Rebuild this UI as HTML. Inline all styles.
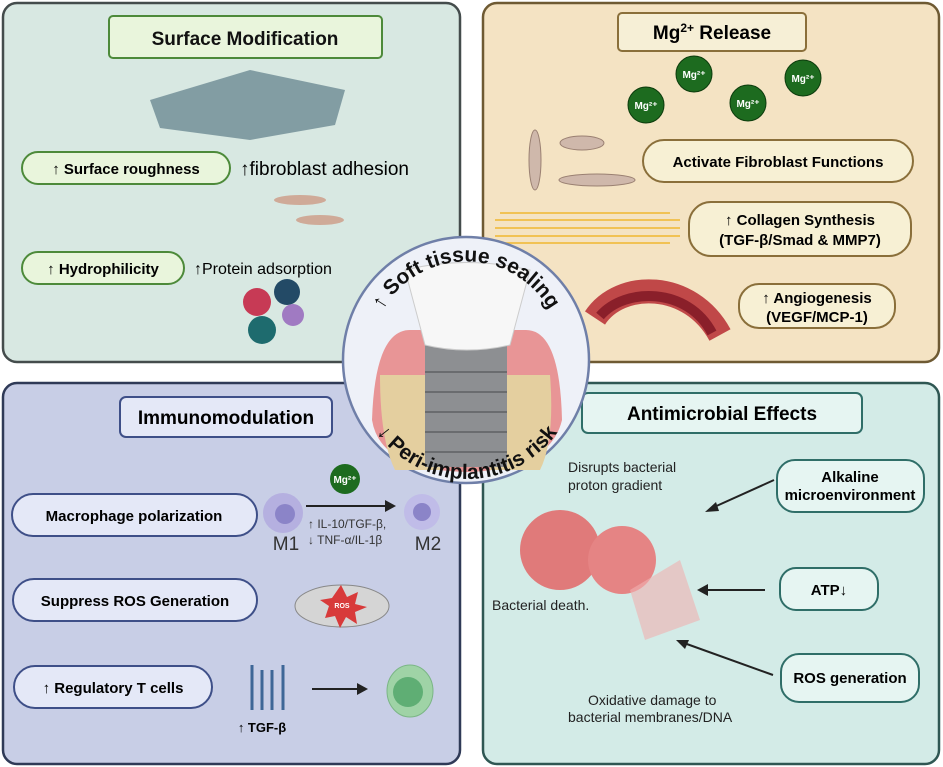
<!DOCTYPE html>
<html><head><meta charset="utf-8"><style>
body{margin:0;background:#fff}
svg{display:block;font-family:"Liberation Sans",Arial,sans-serif}
.b{font-weight:bold}
</style></head><body>
<svg width="943" height="767" viewBox="0 0 943 767" xmlns="http://www.w3.org/2000/svg">
<!-- panels -->
<rect x="3" y="3" width="457" height="359" rx="14" fill="#d8e8e2" stroke="#444c4c" stroke-width="2.5"/>
<rect x="483" y="3" width="456" height="359" rx="14" fill="#f4e3c3" stroke="#6e5a33" stroke-width="2.5"/>
<rect x="3" y="383" width="457" height="381" rx="14" fill="#c8cee6" stroke="#2f3a57" stroke-width="2.5"/>
<rect x="483" y="383" width="456" height="381" rx="14" fill="#d3ebe7" stroke="#2f5753" stroke-width="2.5"/>

<!-- TL -->
<rect x="109" y="16" width="273" height="42" rx="4" fill="#e9f5dc" stroke="#4d8a3a" stroke-width="2"/>
<text x="245" y="45" text-anchor="middle" class="b" font-size="19" fill="#111">Surface Modification</text>
<polygon points="150,100 250,70 345,90 335,125 250,140 160,128" fill="#6d8a94" opacity="0.8"/>
<rect x="22" y="152" width="208" height="32" rx="16" fill="#e9f5dc" stroke="#4d8a3a" stroke-width="2"/>
<text x="126" y="174" text-anchor="middle" class="b" font-size="15">↑ Surface roughness</text>
<text x="240" y="175" font-size="19">↑fibroblast adhesion</text>
<ellipse cx="300" cy="200" rx="26" ry="5" fill="#cfaa98"/><ellipse cx="320" cy="220" rx="24" ry="5" fill="#cfaa98"/>
<rect x="22" y="252" width="162" height="32" rx="16" fill="#e9f5dc" stroke="#4d8a3a" stroke-width="2"/>
<text x="103" y="274" text-anchor="middle" class="b" font-size="15">↑ Hydrophilicity</text>
<text x="194" y="274" font-size="16">↑Protein adsorption</text>
<circle cx="257" cy="302" r="14" fill="#c73a55"/><circle cx="287" cy="292" r="13" fill="#234a66"/><circle cx="262" cy="330" r="14" fill="#1e6b6e"/><circle cx="293" cy="315" r="11" fill="#a07ac2"/>

<!-- TR -->
<rect x="618" y="13" width="188" height="38" rx="4" fill="#f6efd6" stroke="#8a6f3a" stroke-width="2"/>
<text x="712" y="39" text-anchor="middle" class="b" font-size="19">Mg<tspan font-size="12" dy="-7">2+</tspan><tspan dy="7"> Release</tspan></text>
<g fill="#1d6b1f" stroke="#0c3b0c"><circle cx="646" cy="105" r="18"/><circle cx="694" cy="74" r="18"/><circle cx="748" cy="103" r="18"/><circle cx="803" cy="78" r="18"/></g>
<g fill="#fff" font-size="10" class="b" text-anchor="middle"><text x="646" y="109">Mg²⁺</text><text x="694" y="78">Mg²⁺</text><text x="748" y="107">Mg²⁺</text><text x="803" y="82">Mg²⁺</text></g>
<g fill="#cfb8ab" stroke="#9a8072"><ellipse cx="535" cy="160" rx="6" ry="30"/><ellipse cx="582" cy="143" rx="22" ry="7"/><ellipse cx="597" cy="180" rx="38" ry="6"/></g>
<rect x="643" y="140" width="270" height="42" rx="21" fill="#f7f0d4" stroke="#8a6f3a" stroke-width="2"/>
<text x="778" y="167" text-anchor="middle" class="b" font-size="15">Activate Fibroblast Functions</text>
<g stroke="#f0b830" stroke-width="1.5" fill="none"><path d="M495 220h185M495 228h185M495 236h185M500 213h170M500 243h170"/></g>
<rect x="689" y="202" width="222" height="54" rx="22" fill="#f7f0d4" stroke="#8a6f3a" stroke-width="2"/>
<text x="800" y="225" text-anchor="middle" class="b" font-size="15">↑ Collagen Synthesis</text>
<text x="800" y="245" text-anchor="middle" class="b" font-size="15">(TGF-β/Smad &amp; MMP7)</text>
<path d="M595 318 C620 280 690 280 720 335" stroke="#c04848" stroke-width="24" fill="none"/>
<path d="M600 316 C625 287 688 287 712 333" stroke="#8a1f2a" stroke-width="10" fill="none"/>
<rect x="739" y="284" width="156" height="44" rx="20" fill="#f7f0d4" stroke="#8a6f3a" stroke-width="2"/>
<text x="817" y="303" text-anchor="middle" class="b" font-size="15">↑ Angiogenesis</text>
<text x="817" y="322" text-anchor="middle" class="b" font-size="15">(VEGF/MCP-1)</text>

<!-- BL -->
<rect x="120" y="397" width="212" height="40" rx="6" fill="#e4e8f7" stroke="#3e4f88" stroke-width="2"/>
<text x="226" y="424" text-anchor="middle" class="b" font-size="19">Immunomodulation</text>
<circle cx="345" cy="479" r="15" fill="#1d6b1f"/><text x="345" y="483" text-anchor="middle" fill="#fff" font-size="10" class="b">Mg²⁺</text>
<rect x="12" y="494" width="245" height="42" rx="21" fill="#e4e8f7" stroke="#3e4f88" stroke-width="2"/>
<text x="134" y="521" text-anchor="middle" class="b" font-size="15">Macrophage polarization</text>
<circle cx="283" cy="513" r="20" fill="#b5b0e0"/><circle cx="285" cy="514" r="10" fill="#8b84c8"/>
<circle cx="422" cy="512" r="18" fill="#c0bce8"/><circle cx="422" cy="512" r="9" fill="#8b84c8"/>
<path d="M306 506H388" stroke="#222" stroke-width="2"/><polygon points="396,506 385,500 385,512" fill="#222"/>
<text x="286" y="550" text-anchor="middle" font-size="19" fill="#333">M1</text>
<text x="428" y="550" text-anchor="middle" font-size="19" fill="#333">M2</text>
<text x="308" y="528" font-size="12" fill="#333">↑ IL-10/TGF-β,</text>
<text x="308" y="544" font-size="12" fill="#333">↓ TNF-α/IL-1β</text>
<rect x="13" y="579" width="244" height="42" rx="21" fill="#e4e8f7" stroke="#3e4f88" stroke-width="2"/>
<text x="135" y="606" text-anchor="middle" class="b" font-size="15">Suppress ROS Generation</text>
<ellipse cx="342" cy="606" rx="47" ry="21" fill="#d5d5d5" stroke="#888"/>
<polygon points="341,585 347,597 358,592 355,604 367,607 355,612 357,624 346,617 340,628 335,616 325,618 329,606 320,600 332,598" fill="#d83a3a"/>
<text x="342" y="608" text-anchor="middle" font-size="7" fill="#fff" class="b">ROS</text>
<rect x="14" y="666" width="198" height="42" rx="21" fill="#e4e8f7" stroke="#3e4f88" stroke-width="2"/>
<text x="113" y="693" text-anchor="middle" class="b" font-size="15">↑ Regulatory T cells</text>
<g stroke="#3e6797" stroke-width="3" fill="none"><path d="M252 665v45M262 670v40M272 670v40M283 665v45"/></g>
<text x="262" y="732" text-anchor="middle" class="b" font-size="13">↑ TGF-β</text>
<path d="M312 689H360" stroke="#222" stroke-width="2"/><polygon points="368,689 357,683 357,695" fill="#222"/>
<ellipse cx="410" cy="691" rx="23" ry="26" fill="#9fd3a6" stroke="#7bb686"/><circle cx="408" cy="692" r="15" fill="#5fae74"/>

<!-- BR -->
<rect x="582" y="393" width="280" height="40" rx="6" fill="#e6f5f2" stroke="#2f6e68" stroke-width="2"/>
<text x="722" y="420" text-anchor="middle" class="b" font-size="19">Antimicrobial Effects</text>
<text x="568" y="472" font-size="14" fill="#222">Disrupts bacterial</text>
<text x="568" y="490" font-size="14" fill="#222">proton gradient</text>
<path d="M774 480L712 508" stroke="#222" stroke-width="2"/><polygon points="705,512 716,502 719,511" fill="#222"/>
<rect x="777" y="460" width="147" height="52" rx="18" fill="#e6f5f2" stroke="#2f6e68" stroke-width="2"/>
<text x="850" y="482" text-anchor="middle" class="b" font-size="15">Alkaline</text>
<text x="850" y="500" text-anchor="middle" class="b" font-size="15">microenvironment</text>
<circle cx="560" cy="550" r="40" fill="#e07a7a"/><circle cx="622" cy="560" r="34" fill="#e58484"/>
<polygon points="630,590 680,560 700,620 645,640" fill="#f0b0b0" opacity="0.6"/>
<text x="492" y="610" font-size="14" fill="#222">Bacterial death.</text>
<path d="M765 590H705" stroke="#222" stroke-width="2"/><polygon points="697,590 708,584 708,596" fill="#222"/>
<rect x="780" y="568" width="98" height="42" rx="16" fill="#e6f5f2" stroke="#2f6e68" stroke-width="2"/>
<text x="829" y="595" text-anchor="middle" class="b" font-size="15">ATP↓</text>
<path d="M773 675L684 643" stroke="#222" stroke-width="2"/><polygon points="676,640 689,640 685,649" fill="#222"/>
<rect x="781" y="654" width="138" height="48" rx="18" fill="#e6f5f2" stroke="#2f6e68" stroke-width="2"/>
<text x="850" y="683" text-anchor="middle" class="b" font-size="15">ROS generation</text>
<text x="588" y="705" font-size="14" fill="#222">Oxidative damage to</text>
<text x="568" y="722" font-size="14" fill="#222">bacterial membranes/DNA</text>

<!-- center circle -->
<circle cx="466" cy="360" r="123" fill="#eef1f8" stroke="#6f7fa8" stroke-width="2.5"/>
<path d="M372 420 Q375 330 410 330 L526 330 Q560 330 562 420 Q550 470 466 472 Q380 470 372 420Z" fill="#e89596"/>
<path d="M380 375h60v95h-45Q380 440 380 375ZM490 375h60Q555 440 540 470h-50Z" fill="#e4cf9f"/>
<rect x="425" y="342" width="82" height="125" fill="#8d8f92"/>
<g stroke="#6a6c6f" stroke-width="2"><path d="M425 372h82M425 392h82M425 412h82M425 432h82M425 452h82"/></g>
<path d="M405 270 Q466 255 530 270 L510 345 Q466 355 425 345Z" fill="#f7f7f7" stroke="#ccc"/>
<defs>
<path id="top" d="M372 338 A96 96 0 0 1 560 338"/>
<path id="bot" d="M356 368 A111 111 0 0 0 578 368"/>
</defs>
<text class="b" font-size="21" fill="#111"><textPath href="#top" startOffset="50%" text-anchor="middle">↑ Soft tissue sealing</textPath></text>
<text class="b" font-size="21" fill="#111"><textPath href="#bot" startOffset="50%" text-anchor="middle">↓ Peri-implantitis risk</textPath></text>
</svg>
</body></html>
